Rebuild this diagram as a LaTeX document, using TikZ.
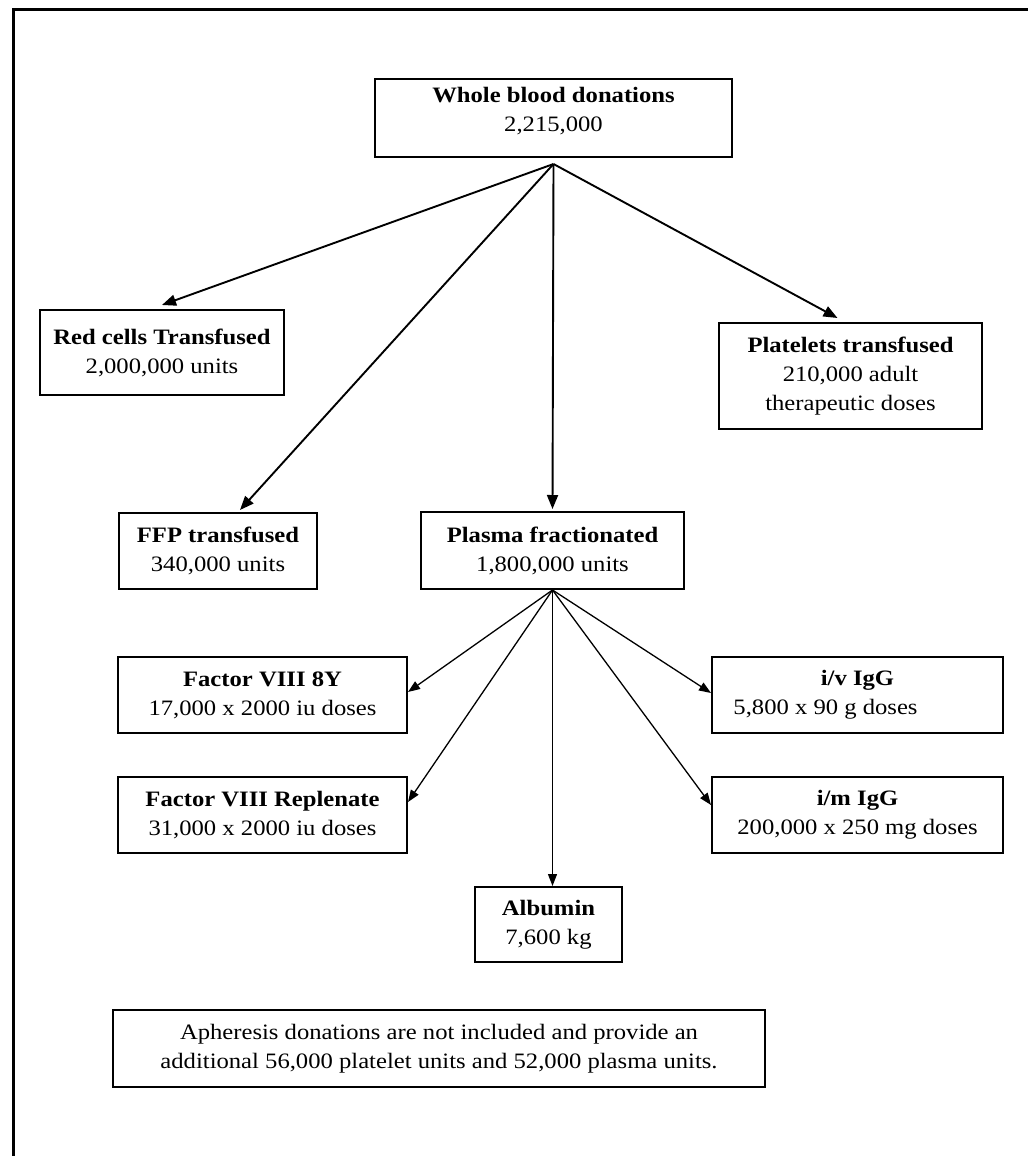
\documentclass[tikz,border=0pt]{standalone}
\usepackage{fontspec}
\setmainfont{Liberation Serif}[FakeStretch=1.12]
\usetikzlibrary{arrows.meta}
\begin{document}
\begin{tikzpicture}[x=1pt,y=-1pt,
  box/.style={draw, line width=2pt, align=center, inner sep=0pt,
    font=\fontsize{22}{29}\selectfont},
  arr/.style={line width=1.9pt, -{Triangle[length=14pt,width=11pt]}},
  arrs/.style={line width=1.3pt, -{Triangle[length=12pt,width=9pt]}},
  frame/.style={line width=3pt}]
\useasboundingbox (0,0) rectangle (1028,1156);
% frame
\coordinate (fb) at (13,1156);
\coordinate (fc) at (13,10);
\coordinate (fr) at (1028,10);
\draw[frame] (fb) -- (fc) -- (fr);
% nodes
\node[box, minimum width=357pt, minimum height=78pt, text depth=18pt] (wb) at (553.5,118)
  {\textbf{Whole blood donations}\\2,215,000};
\node[box, minimum width=244pt, minimum height=85pt] (red) at (162,352.5)
  {\textbf{Red cells Transfused}\\2,000,000 units};
\node[box, minimum width=263pt, minimum height=106pt] (plt) at (850.5,376)
  {\textbf{Platelets transfused}\\210,000 adult\\therapeutic doses};
\node[box, minimum width=198pt, minimum height=76pt] (ffp) at (218,551)
  {\textbf{FFP transfused}\\340,000 units};
\node[box, minimum width=263pt, minimum height=77pt] (pla) at (552.5,550.5)
  {\textbf{Plasma fractionated}\\1,800,000 units};
\node[box, minimum width=289pt, minimum height=76pt] (f8y) at (262.5,695)
  {\textbf{Factor VIII 8Y}\\17,000 x 2000 iu doses};
\node[box, minimum width=291pt, minimum height=76pt] (ivg) at (857.5,695)
  {\textbf{i/v IgG}\\5,800 x 90 g doses\hspace*{64pt}};
\node[box, minimum width=289pt, minimum height=76pt] (rep) at (262.5,815)
  {\textbf{Factor VIII Replenate}\\31,000 x 2000 iu doses};
\node[box, minimum width=291pt, minimum height=76pt] (img) at (857.5,815)
  {\textbf{i/m IgG}\\200,000 x 250 mg doses};
\node[box, minimum width=147pt, minimum height=75pt] (alb) at (548.5,924.5)
  {\textbf{Albumin}\\7,600 kg};
\node[box, minimum width=652pt, minimum height=77pt] (aph) at (439,1048.5)
  {Apheresis donations are not included and provide an\\additional 56,000 platelet units and 52,000 plasma units.};
% apex points
\coordinate (wa) at ([yshift=-6pt]wb.south);
\coordinate (pa) at (pla.south);
% connectors from whole blood
\draw[arr] (wa) -- ([yshift=4pt]red.north);
\draw[arr] (wa) -- ([xshift=-13pt,yshift=4pt]plt.north);
\draw[arr] (wa) -- ([xshift=22pt,yshift=2pt]ffp.north);
\draw[arr] (wa) -- ([yshift=2pt]pla.north);
% connectors from plasma
\draw[arrs] (pa) -- ([yshift=3pt]f8y.east);
\draw[arrs] (pa) -- ([yshift=2pt]ivg.west);
\draw[arrs] (pa) -- ([yshift=13pt]rep.east);
\draw[arrs] (pa) -- ([yshift=10pt]img.west);
\draw[arrs] (pa) -- (pa |- alb.north);
\end{tikzpicture}
\end{document}
